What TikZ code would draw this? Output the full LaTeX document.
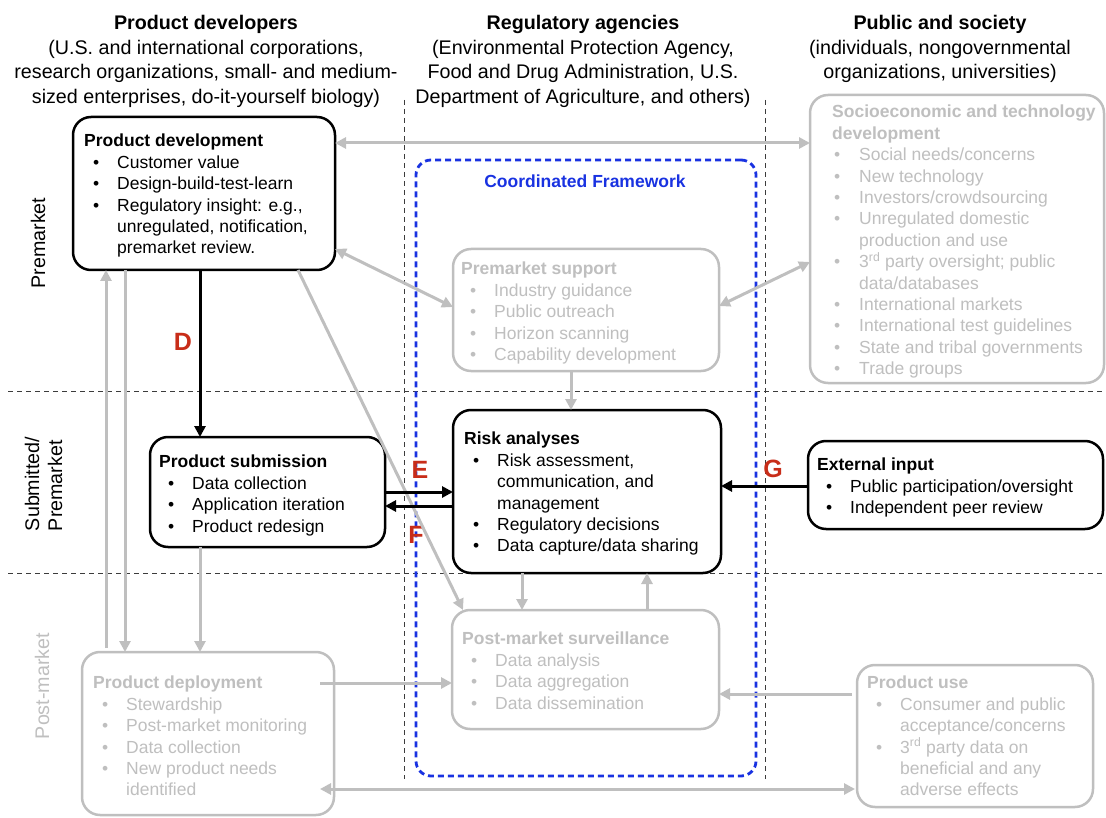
\documentclass[tikz,border=0pt]{standalone}
\usepackage{fontspec}
\setmainfont{Liberation Sans}
\usetikzlibrary{arrows.meta}
\definecolor{lgray}{RGB}{191,191,191}
\definecolor{dred}{RGB}{200,45,25}
\definecolor{fblue}{RGB}{25,50,225}
\definecolor{dline}{RGB}{60,60,60}
\newcommand{\myb}[1]{\makebox[33pt][l]{\hspace*{9pt}•}#1}
\newcommand{\myc}[1]{\hspace*{33pt}#1}
\newcommand{\mysb}[1]{\makebox[27pt][l]{\hspace*{2pt}•}#1}
\newcommand{\mysc}[1]{\hspace*{27pt}#1}
\begin{document}
\begin{tikzpicture}[x=1pt,y=-1pt,
  box/.style={draw, line width=2.5pt, rounded corners=18pt, fill=white, inner sep=0pt, outer sep=0pt, anchor=north west},
  gbox/.style={box, draw=lgray},
  txt/.style={anchor=north west, align=left, inner sep=0pt, font=\fontsize{17.5}{21.4}\selectfont},
  gtxt/.style={txt, text=lgray},
  hdr/.style={anchor=north, align=center, inner sep=0pt, font=\fontsize{19.7}{24.5}\selectfont},
  side/.style={rotate=90, align=left, inner sep=0pt, font=\fontsize{19.7}{23}\selectfont},
  lab/.style={text=dred, font=\fontsize{25}{25}\selectfont\bfseries, inner sep=0pt},
  barr/.style={line width=3pt, -{Triangle[length=11pt,width=11pt]}},
  garr/.style={color=lgray, line width=3pt, -{Triangle[length=11pt,width=11pt]}},
  gdarr/.style={color=lgray, line width=3pt, {Triangle[length=11pt,width=11pt]}-{Triangle[length=11pt,width=11pt]}},
  sep/.style={dline, line width=0.9pt, dash pattern=on 5pt off 4pt},
]
\useasboundingbox (0,0) rectangle (1106,818);

% separators
\draw[sep] (8,391) -- (1106,391);
\draw[sep] (8,573) -- (1106,573);
\draw[sep] (404,100) -- (404,779);
\draw[sep] (765,100) -- (765,779);

% coordinated framework
\node[draw=fblue, line width=2.8pt, dash pattern=on 6pt off 4pt, rounded corners=15pt,
      inner sep=0pt, outer sep=0pt, anchor=north west, minimum width=340pt, minimum height=616pt] (cf) at (416,160) {};
\node[text=fblue, font=\fontsize{17.5}{21}\selectfont\bfseries, inner sep=0pt] (cft) at (585,181) {Coordinated Framework};

% headers
\node[hdr] (h1) at (206,15.5) {{\bfseries Product developers}\\(U.S. and international corporations,\\research organizations, small- and medium-\\sized enterprises, do-it-yourself biology)};
\node[hdr] (h2) at (583,15.5) {{\bfseries Regulatory agencies}\\(Environmental Protection Agency,\\Food and Drug Administration, U.S.\\Department of Agriculture, and others)};
\node[hdr] (h3) at (940,15.5) {{\bfseries Public and society}\\(individuals, nongovernmental\\organizations, universities)};

% side labels
\node[side] (s1) at (38,243) {Premarket};
\node[side] (s2) at (43.5,484) {Submitted/\\Premarket};
\node[side, text=lgray] (s3) at (42,686) {Post-market};

% boxes
\node[box, minimum width=262pt, minimum height=153pt] (pd) at (73,117) {};
\node[box, minimum width=235pt, minimum height=110pt] (sub) at (150,437) {};
\node[box, minimum width=268pt, minimum height=163pt] (risk) at (453,410) {};
\node[box, minimum width=295pt, minimum height=88pt] (ext) at (808,441) {};
\node[gbox, minimum width=266pt, minimum height=122pt] (pms) at (453,249) {};
\node[gbox, minimum width=294pt, minimum height=288pt] (soc) at (810,95) {};
\node[gbox, minimum width=267pt, minimum height=119pt] (pmsv) at (452,610) {};
\node[gbox, minimum width=252pt, minimum height=163pt] (dep) at (82,652) {};
\node[gbox, minimum width=236pt, minimum height=142pt] (use) at (857,665) {};

% box texts
\node[txt] (pdt) at (84,134) {{\bfseries Product development}\\
\myb{Customer value}\\
\myb{Design-build-test-learn}\\
\myb{Regulatory insight: e.g.,}\\
\myc{unregulated, notification,}\\
\myc{premarket review.}};
\node[txt] (subt) at (159,455) {{\bfseries Product submission}\\
\myb{Data collection}\\
\myb{Application iteration}\\
\myb{Product redesign}};
\node[txt] (riskt) at (464,432) {{\bfseries Risk analyses}\\
\myb{Risk assessment,}\\
\myc{communication, and}\\
\myc{management}\\
\myb{Regulatory decisions}\\
\myb{Data capture/data sharing}};
\node[txt] (extt) at (817,458) {{\bfseries External input}\\
\myb{Public participation/oversight}\\
\myb{Independent peer review}};
\node[gtxt] (pmst) at (461,262) {{\bfseries Premarket support}\\
\myb{Industry guidance}\\
\myb{Public outreach}\\
\myb{Horizon scanning}\\
\myb{Capability development}};
\node[gtxt] (soct) at (832,105) {{\bfseries Socioeconomic and technology}\\
{\bfseries development}\\
\mysb{Social needs/concerns}\\
\mysb{New technology}\\
\mysb{Investors/crowdsourcing}\\
\mysb{Unregulated domestic}\\
\mysc{production and use}\\
\mysb{3\textsuperscript{rd} party oversight; public}\\
\mysc{data/databases}\\
\mysb{International markets}\\
\mysb{International test guidelines}\\
\mysb{State and tribal governments}\\
\mysb{Trade groups}};
\node[gtxt] (pmsvt) at (462,632) {{\bfseries Post-market surveillance}\\
\myb{Data analysis}\\
\myb{Data aggregation}\\
\myb{Data dissemination}};
\node[gtxt] (dept) at (93,676) {{\bfseries Product deployment}\\
\myb{Stewardship}\\
\myb{Post-market monitoring}\\
\myb{Data collection}\\
\myb{New product needs}\\
\myc{identified}};
\node[gtxt] (uset) at (867,676) {{\bfseries Product use}\\
\myb{Consumer and public}\\
\myc{acceptance/concerns}\\
\myb{3\textsuperscript{rd} party data on}\\
\myc{beneficial and any}\\
\myc{adverse effects}};

% letters
\node[lab] (lD) at (183,342) {D};
\node[lab] (lE) at (420,470) {E};
\node[lab] (lF) at (416,535) {F};
\node[lab] (lG) at (773,469) {G};

% gray connectors
\draw[gdarr] ([yshift=-26pt]pd.north east) -- ([yshift=-48pt]soc.north west);
\draw[gdarr] ([yshift=-132pt]pd.north east) -- ([yshift=-58pt]pms.north west);
\draw[gdarr] ([yshift=-57pt]pms.north east) -- ([yshift=-167pt]soc.north west);
\draw[garr] ([xshift=118pt]pms.south west) -- ([xshift=118pt]risk.north west);
\draw[garr] ([xshift=225pt]pd.south west) -- ([xshift=11pt]pmsv.north west);
\draw[garr] ([xshift=69pt]risk.south west) -- ([xshift=70pt]pmsv.north west);
\draw[garr] ([xshift=195pt]pmsv.north west) -- ([xshift=194pt]risk.south west);
\draw[garr] ([xshift=-14pt,yshift=-31pt]dep.north east) -- ([yshift=-73pt]pmsv.north west);
\draw[garr] ([xshift=-5pt,yshift=-29pt]use.north west) -- ([yshift=-84pt]pmsv.north east);
\draw[gdarr] ([xshift=-14pt,yshift=-137pt]dep.north east) -- ([xshift=-2pt,yshift=-124pt]use.north west);
\draw[garr] ([xshift=24pt,yshift=4pt]dep.north west) -- ([xshift=33pt]pd.south west);
\draw[garr] ([xshift=52pt]pd.south west) -- ([xshift=43pt]dep.north west);
\draw[garr] ([xshift=50pt]sub.south west) -- ([xshift=118pt]dep.north west);

% black connectors
\draw[barr] ([xshift=127pt]pd.south west) -- ([xshift=50pt]sub.north west);
\draw[barr] ([yshift=-55pt]sub.north east) -- ([yshift=-82pt]risk.north west);
\draw[barr] ([yshift=-96pt]risk.north west) -- ([yshift=-69pt]sub.north east);
\draw[barr] ([yshift=-45pt]ext.north west) -- ([yshift=-76pt]risk.north east);
\end{tikzpicture}
\end{document}
